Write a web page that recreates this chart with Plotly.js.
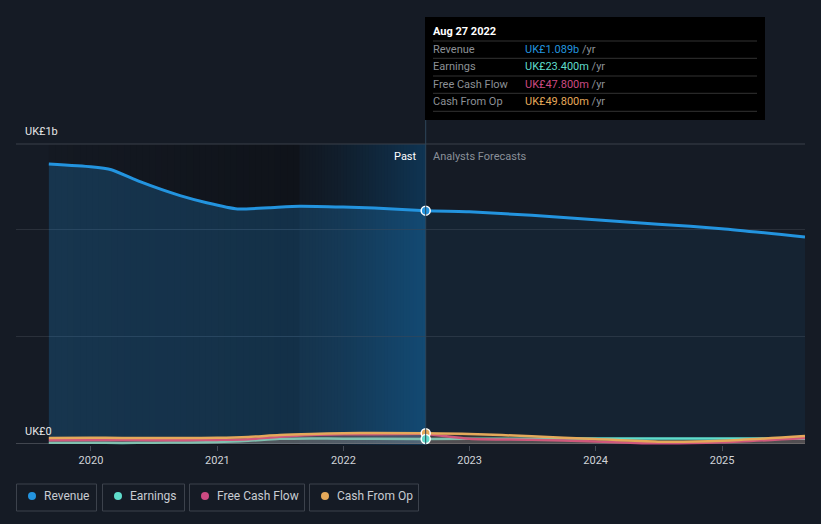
<!DOCTYPE html>
<html>
<head>
<meta charset="utf-8">
<script src="https://cdn.plot.ly/plotly-3.0.1.min.js"></script>
<style>html,body{margin:0;padding:0;background:#151b25;}#chart{width:821px;height:524px;}</style>
</head>
<body>
<div id="chart"></div>
<script>
// ---- data (values in UK£ millions) ----
const revDates = ['2019-09-01','2019-12-31','2020-02-29','2020-05-22','2020-09-15','2020-12-01','2021-02-28','2021-05-31','2021-08-27','2021-12-31','2022-03-31','2022-08-27'];
const revenuePast  = [1307,1294,1280,1224,1159,1126,1097,1103,1110,1106,1101,1089];

const pastDates = ['2019-09-01','2019-12-31','2020-03-31','2020-06-30','2020-09-30','2020-12-31','2021-03-31','2021-06-30','2021-09-30','2021-12-31','2022-03-31','2022-08-27'];
const earningsPast = [6,6,5,6,7,9,15,24,26,25,24,23.4];
const fcfPast      = [18,19,19,18,18,19,22,34,42,45,46,47.8];
const cfoPast      = [28,29,28,28,28,29,33,42,47,50,51,49.8];

const forecastDates = ['2022-08-27','2022-12-31','2023-06-30','2023-12-31','2024-06-30','2024-12-31','2025-08-29'];
const revenueFc  = [1089,1084,1067,1047,1026,1005,966];
const earningsFc = [23.4,24,25,26,26,26,25];
const fcfFc      = [47.8,25,20,12,3,8,28];
const cfoFc      = [49.8,47,36,23,11,15,37];

const seriesNames = ['Revenue','Earnings','Free Cash Flow','Cash From Op'];
const tooltipDate = 'Aug 27 2022';
const tooltipValues = ['UK£1.089b','UK£23.400m','UK£47.800m','UK£49.800m'];
const highlightStart = '2021-08-27';
const highlightEnd = '2022-08-27';
const yAxisLabels = ['UK£1b','UK£0'];
const yearTicks = ['2020','2021','2022','2023','2024','2025'];

// ---- styling ----
const C = {rev:'#2394df', earn:'#5fdccb', fcf:'#cc4a82', cfo:'#e5a95a'};
const colors = [C.rev, C.earn, C.fcf, C.cfo];
const L=16, R=805, T=144, B=445;
const px = x => (x-L)/(R-L);
const py = y => (B-y)/(B-T);
function hexA(h,a){const r=parseInt(h.slice(1,3),16),g=parseInt(h.slice(3,5),16),b=parseInt(h.slice(5,7),16);return `rgba(${r},${g},${b},${a})`;}
function smallTrace(x, y, color, fillA){
  return {x:x, y:y, type:'scatter', mode:'lines', line:{color:color, width:2.5, shape:'spline', smoothing:0.8},
    fill:'tozeroy', fillcolor:hexA(color, fillA), hoverinfo:'skip', showlegend:false};
}

const traces = [
  {x:revDates, y:revenuePast, type:'scatter', mode:'lines', line:{color:C.rev,width:3,shape:'spline',smoothing:0.5}, fill:'tozeroy', fillcolor:'rgba(35,148,223,0.23)', hoverinfo:'skip', showlegend:false},
  {x:forecastDates, y:revenueFc, type:'scatter', mode:'lines', line:{color:C.rev,width:3,shape:'spline',smoothing:0.6}, fill:'tozeroy', fillcolor:'rgba(35,148,223,0.07)', hoverinfo:'skip', showlegend:false},
  smallTrace(pastDates, earningsPast, C.earn, 0.15),
  smallTrace(forecastDates, earningsFc, C.earn, 0.15),
  smallTrace(pastDates, fcfPast, C.fcf, 0.15),
  smallTrace(forecastDates, fcfFc, C.fcf, 0.15),
  smallTrace(pastDates, cfoPast, C.cfo, 0.15),
  smallTrace(forecastDates, cfoFc, C.cfo, 0.15),
  {x:[highlightEnd,highlightEnd,highlightEnd], y:[revenuePast[revenuePast.length-1], cfoPast[cfoPast.length-1], earningsPast[earningsPast.length-1]], type:'scatter', mode:'markers',
   marker:{size:9, color:[C.rev, C.cfo, C.earn], line:{color:'#ffffff', width:1.5}}, hoverinfo:'skip', showlegend:false}
];

const shapes = [];
function gradRects(start, end, c0, c1, steps, pw){
  const s = new Date(start).getTime(), e = new Date(end).getTime();
  const ov = (e-s)/steps*0.6;
  for(let i=0;i<steps;i++){
    const t = i/(steps-1);
    const c = c0.map((v,k)=>Math.round(v+(c1[k]-v)*Math.pow(t,pw)));
    const x1 = i===steps-1 ? e : s+(e-s)*(i+1)/steps + ov;
    shapes.push({type:'rect', xref:'x', yref:'paper', x0:new Date(s+(e-s)*i/steps).toISOString(), x1:new Date(x1).toISOString(), y0:0, y1:1, fillcolor:`rgb(${c[0]},${c[1]},${c[2]})`, line:{width:0}, layer:'below'});
  }
}
gradRects(pastDates[0], highlightStart, [20,25,34], [15,19,26], 40, 1);
gradRects(highlightStart, highlightEnd, [17,24,34], [15,52,82], 40, 1.3);
// top line
shapes.push({type:'line', xref:'paper', yref:'paper', x0:0, x1:1, y0:1, y1:1, line:{color:'#3a404a', width:1}});
// vertical marker line
shapes.push({type:'line', xref:'x', yref:'paper', x0:highlightEnd, x1:highlightEnd, y0:0, y1:py(17), line:{color:'#2d4659', width:1}});
// tooltip box
shapes.push({type:'rect', xref:'paper', yref:'paper', x0:px(425), x1:px(765), y0:py(120), y1:py(17), fillcolor:'#000000', line:{width:0}});
[41,58.3,76,93.3,111.3].forEach(y=>shapes.push({type:'line', xref:'paper', yref:'paper', x0:px(433), x1:px(757), y0:py(y), y1:py(y), line:{color:'#333333', width:1}}));

const annotations = [];
const font = 'Roboto, "Open Sans", sans-serif';
function txt(x, y, text, size, color, anchor){
  annotations.push({xref:'paper', yref:'paper', x:px(anchor==='right'? x+2 : x-2), y:py(y), text:text, showarrow:false, xanchor:anchor||'left', yanchor:'middle', font:{family:font, size:size, color:color}});
}
txt(25, 131, yAxisLabels[0], 11, '#e6e6e6');
txt(25, 431, yAxisLabels[1], 11, '#e6e6e6');
txt(417, 156, 'Past', 11, '#ffffff', 'right');
txt(433, 156, 'Analysts Forecasts', 11, '#8a9099');
// tooltip
txt(433, 31, '<b>'+tooltipDate+'</b>', 11, '#ffffff');
const rowsY=[49,66.5,84,101.5];
seriesNames.forEach((n,i)=>{
  txt(433, rowsY[i], n, 11, '#8c9096');
  txt(525, rowsY[i], `<span style="color:${colors[i]}">${tooltipValues[i]}</span> /yr`, 11, '#8c9096');
});
// legend boxes
const boxes=[[16,97],[102,185],[189,305],[309,419]];
boxes.forEach((b,i)=>{
  shapes.push({type:'rect', xref:'paper', yref:'paper', x0:px(b[0]+0.5), x1:px(b[1]-0.5), y0:py(511), y1:py(484), fillcolor:'rgba(0,0,0,0)', line:{color:'#3c424c', width:1}});
  const cx=b[0]+16, cy=496;
  shapes.push({type:'circle', xref:'paper', yref:'paper', x0:px(cx-4), x1:px(cx+4), y0:py(cy+4), y1:py(cy-4), fillcolor:colors[i], line:{width:0}});
  txt(b[0]+28, 496, seriesNames[i], 12, '#c8ccd2');
});

const layout = {
  width:821, height:524,
  margin:{l:L, r:821-R, t:T, b:524-B},
  paper_bgcolor:'#151b25', plot_bgcolor:'rgba(0,0,0,0)',
  font:{family:font, color:'#d0d3d8'},
  showlegend:false,
  xaxis:{type:'date', range:['2019-05-29','2025-08-29'], tickvals:yearTicks.map(y=>y+'-01-01'), ticktext:yearTicks,
    ticks:'outside', ticklen:5, tickcolor:'#444a55', showgrid:false, zeroline:false, showline:false,
    tickfont:{family:font, size:11, color:'#d0d3d8'}, fixedrange:true},
  yaxis:{range:[-4.7,1400], tickvals:[0,500,1000], showticklabels:false, gridcolor:'#2a303a', gridwidth:1,
    zeroline:true, zerolinecolor:'#41464f', zerolinewidth:1, fixedrange:true},
  shapes:shapes, annotations:annotations
};
Plotly.newPlot('chart', traces, layout, {displayModeBar:false, staticPlot:true});
</script>
</body>
</html>
